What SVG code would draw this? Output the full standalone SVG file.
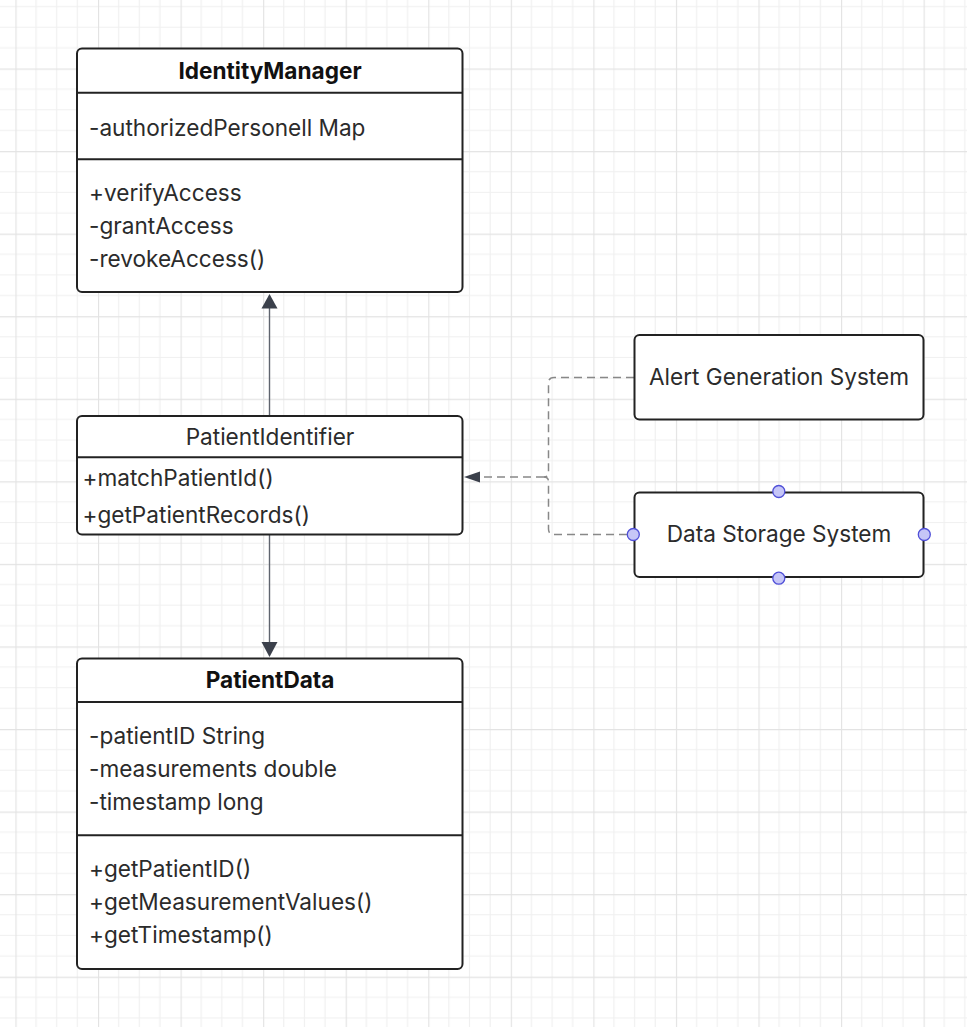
<svg xmlns="http://www.w3.org/2000/svg" width="967" height="1027" viewBox="0 0 967 1027">
<defs>
<pattern id="grid" patternUnits="userSpaceOnUse" x="98" y="68.5" width="82.56" height="82.56">
<path d="M20.64 0V82.56M41.28 0V82.56M61.92 0V82.56M0 20.64H82.56M0 41.28H82.56M0 61.92H82.56" stroke="#f0f0f0" stroke-width="1.2" fill="none"/>
<path d="M0.5 0V82.56M0 0.5H82.56" stroke="#e3e3e3" stroke-width="1.3" fill="none"/>
</pattern>
<style>
.box{fill:#fff;stroke:#222;stroke-width:2}
.div{stroke:#222;stroke-width:2}
.t{font-family:Inter,"Liberation Sans",sans-serif;font-size:22.6px;fill:#2b2b2b}
.b{font-weight:bold;fill:#111}
.c{text-anchor:middle}
.sol{stroke:#5f646e;stroke-width:1.4;fill:none}
.dash{stroke:#888;stroke-width:1.5;fill:none;stroke-dasharray:8 5}
.head{fill:#3b404b}
.port{fill:#c6c6f7;stroke:#5050d8;stroke-width:1.3}
</style>
</defs>
<rect width="967" height="1027" fill="#fff"/>
<rect width="967" height="1027" fill="url(#grid)"/>

<g id="connectors">
<path class="sol" d="M269.5 416V307"/>
<polygon class="head" points="269.5,294 261.5,308.5 277.5,308.5"/>
<path class="sol" d="M269.5 534.5V643"/>
<polygon class="head" points="269.5,657 261.5,642 277.5,642"/>
<path class="dash" d="M634 377.5H554Q548.5 377.5 548.5 383V472Q548.5 477 544 477"/>
<path class="dash" d="M627 534.5H554Q548.5 534.5 548.5 529V482Q548.5 477 544 477"/>
<path class="dash" d="M544 477H479"/>
<polygon class="head" points="464,477 480,471.5 480,482.5"/>
</g>

<g id="IdentityManager">
<rect class="box" x="77" y="48.5" width="385.5" height="243.5" rx="5"/>
<line class="div" x1="77" y1="92.7" x2="462.5" y2="92.7"/>
<line class="div" x1="77" y1="159.3" x2="462.5" y2="159.3"/>
<text class="t b c" x="270" y="79">IdentityManager</text>
<text class="t" x="89" y="135.5">-authorizedPersonell Map</text>
<text class="t" x="89" y="200.5">+verifyAccess</text>
<text class="t" x="89" y="233.5">-grantAccess</text>
<text class="t" x="89" y="267">-revokeAccess()</text>
</g>

<g id="PatientIdentifier">
<rect class="box" x="77" y="416" width="385.5" height="118.5" rx="5"/>
<line class="div" x1="77" y1="457.3" x2="462.5" y2="457.3"/>
<text class="t c" x="270" y="445">PatientIdentifier</text>
<text class="t" x="82.5" y="486">+matchPatientId()</text>
<text class="t" x="82.5" y="523">+getPatientRecords()</text>
</g>

<g id="PatientData">
<rect class="box" x="77" y="658.5" width="385.5" height="310.5" rx="5"/>
<line class="div" x1="77" y1="702" x2="462.5" y2="702"/>
<line class="div" x1="77" y1="835.3" x2="462.5" y2="835.3"/>
<text class="t b c" x="270" y="688">PatientData</text>
<text class="t" x="89" y="744">-patientID String</text>
<text class="t" x="89" y="777">-measurements double</text>
<text class="t" x="89" y="810">-timestamp long</text>
<text class="t" x="89" y="876.5">+getPatientID()</text>
<text class="t" x="89" y="909.5">+getMeasurementValues()</text>
<text class="t" x="89" y="943">+getTimestamp()</text>
</g>

<g id="AlertGenerationSystem">
<rect class="box" x="634.5" y="335" width="289" height="84.5" rx="5"/>
<text class="t c" x="779" y="384.5">Alert Generation System</text>
</g>

<g id="DataStorageSystem">
<rect class="box" x="634.5" y="492.5" width="289" height="84.5" rx="5"/>
<text class="t c" x="779" y="541.5">Data Storage System</text>
<circle class="port" cx="778.8" cy="491.5" r="6"/>
<circle class="port" cx="778.8" cy="578.2" r="6"/>
<circle class="port" cx="633.3" cy="534.5" r="6"/>
<circle class="port" cx="924.3" cy="534.5" r="6"/>
</g>
</svg>
